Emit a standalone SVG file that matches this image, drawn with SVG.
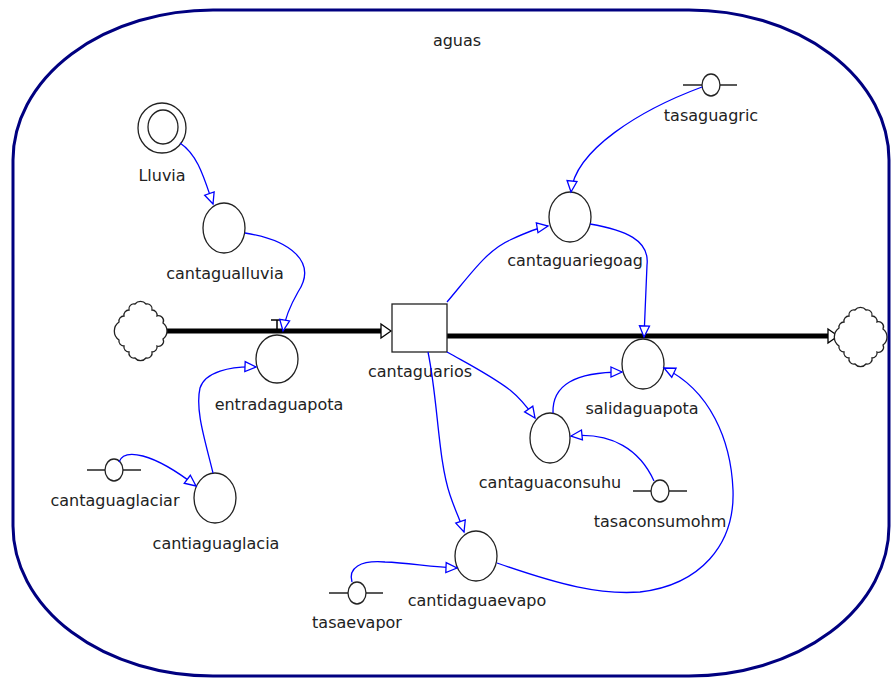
<svg xmlns="http://www.w3.org/2000/svg" width="892" height="679" viewBox="0 0 892 679">
<style>
text{font-family:"DejaVu Sans","Liberation Sans",sans-serif;font-size:16px;fill:#222;text-anchor:middle}
.aux{fill:#fff;stroke:#222;stroke-width:1.3}
.con{fill:none;stroke:#222;stroke-width:1.3}
.lnk{fill:none;stroke:#0000ff;stroke-width:1.3;marker-end:url(#ah)}
.pipe{fill:none;stroke:#000;stroke-width:5}
.cloud{fill:#fff;stroke:#222;stroke-width:1.3}
</style>
<defs>
<marker id="ah" markerUnits="userSpaceOnUse" markerWidth="14" markerHeight="12" refX="12" refY="5" orient="auto" overflow="visible">
<path d="M1,0 L12,5 L1,10 Z" fill="#fff" stroke="#0000ff" stroke-width="1.3"/>
</marker>
<path id="cl" d="M-6,-27 A7,7 0 0 1 5,-27 A5,5 0 0 1 11,-21 A5,5 0 0 1 16,-15 A5,5 0 0 1 22,-8 A10,10 0 0 1 22,8 A5,5 0 0 1 16,15 A5,5 0 0 1 11,21 A5,5 0 0 1 5,27 A7,7 0 0 1 -6,27 A5,5 0 0 1 -12,21 A5,5 0 0 1 -17,15 A5,5 0 0 1 -22,9 A11,11 0 0 1 -22,-9 A5,5 0 0 1 -17,-15 A5,5 0 0 1 -12,-21 A5,5 0 0 1 -6,-27 Z"/>
</defs>
<rect id="sector" x="13" y="10" width="876" height="666" rx="200" ry="150" fill="none" stroke="#000080" stroke-width="3"/>
<text x="457" y="46">aguas</text>

<g id="flows">
<path class="pipe" d="M164,331 L382,331"/>
<path d="M381,324 L391,331 L381,338 Z" fill="#fff" stroke="#000" stroke-width="1.3"/>
<path class="pipe" d="M447,336 L829,336"/>
<path d="M828,329 L838,336 L828,343 Z" fill="#fff" stroke="#000" stroke-width="1.3"/>
<path d="M271,320 L283,320 M277,320 L277,331" stroke="#000" stroke-width="1.5" fill="none"/>
</g>

<g id="cloud-in"><use href="#cl" class="cloud" transform="translate(141,331)"/></g>
<g id="cloud-out"><use href="#cl" class="cloud" transform="translate(861,337)"/></g>

<g id="cantaguarios">
<rect x="392" y="304" width="55" height="48" fill="#fff" stroke="#222" stroke-width="1.3"/>
<text x="420" y="377">cantaguarios</text>
</g>

<g id="Lluvia">
<ellipse class="aux" cx="162" cy="128" rx="24" ry="25"/>
<ellipse class="aux" cx="163" cy="127" rx="15" ry="17"/>
<text x="162" y="181">Lluvia</text>
</g>

<g id="cantagualluvia">
<ellipse class="aux" cx="224" cy="228" rx="21" ry="25"/>
<text x="225" y="279">cantagualluvia</text>
</g>

<g id="entradaguapota">
<ellipse class="aux" cx="277" cy="359" rx="21" ry="24"/>
<text x="279" y="410">entradaguapota</text>
</g>

<g id="cantiaguaglacia">
<ellipse class="aux" cx="215" cy="498" rx="21" ry="25"/>
<text x="216" y="549">cantiaguaglacia</text>
</g>

<g id="cantaguaglaciar">
<path class="con" d="M87,470 L141,470"/>
<ellipse class="aux" cx="114" cy="470" rx="9" ry="11" fill="none"/>
<text x="115" y="506">cantaguaglaciar</text>
</g>

<g id="cantaguariegoag">
<ellipse class="aux" cx="570" cy="217" rx="21" ry="25"/>
<text x="575" y="266">cantaguariegoag</text>
</g>

<g id="tasaguagric">
<path class="con" d="M683,85 L737,85"/>
<ellipse class="aux" cx="711" cy="85" rx="9" ry="11" fill="none"/>
<text x="711" y="121">tasaguagric</text>
</g>

<g id="salidaguapota">
<ellipse class="aux" cx="643" cy="364" rx="21" ry="25"/>
<text x="642" y="414">salidaguapota</text>
</g>

<g id="cantaguaconsuhu">
<ellipse class="aux" cx="550" cy="438" rx="20" ry="25"/>
<text x="550" y="488">cantaguaconsuhu</text>
</g>

<g id="tasaconsumohm">
<path class="con" d="M633,491 L687,491"/>
<ellipse class="aux" cx="660" cy="491" rx="9" ry="11" fill="none"/>
<text x="660" y="527">tasaconsumohm</text>
</g>

<g id="cantidaguaevapo">
<ellipse class="aux" cx="476" cy="556" rx="21" ry="25"/>
<text x="477" y="606">cantidaguaevapo</text>
</g>

<g id="tasaevapor">
<path class="con" d="M329,593 L383,593"/>
<ellipse class="aux" cx="357" cy="593" rx="9" ry="11" fill="none"/>
<text x="357" y="628">tasaevapor</text>
</g>

<g id="connectors">
<path class="lnk" d="M180,143 C198,155 204,178 213,204"/>
<path class="lnk" d="M245,233 C290,240 318,262 298,292 C290,306 285,318 283,331"/>
<path class="lnk" d="M119,462 C124,448 152,452 196,486"/>
<path class="lnk" d="M213,473 C205,440 195,410 200,388 C205,372 230,366 256,367"/>
<path class="lnk" d="M447,302 C470,275 487,250 510,240 C525,233 536,228 548,226"/>
<path class="lnk" d="M702,87 C640,110 575,150 571,192"/>
<path class="lnk" d="M590,224 C625,230 650,240 647,265 L644,337"/>
<path class="lnk" d="M447,352 C470,365 490,375 510,390 C520,398 528,408 535,418"/>
<path class="lnk" d="M553,413 C552,385 575,372 622,372"/>
<path class="lnk" d="M654,481 C640,450 612,432 571,436"/>
<path class="lnk" d="M428,352 C438,400 438,460 450,495 C455,510 460,520 464,532"/>
<path class="lnk" d="M352,582 C348,568 360,560 385,562 C410,563 430,567 457,568"/>
<path class="lnk" d="M497,563 C560,585 600,595 640,592 C700,585 735,545 733,490 C731,440 710,390 664,368"/>
</g>
</svg>
